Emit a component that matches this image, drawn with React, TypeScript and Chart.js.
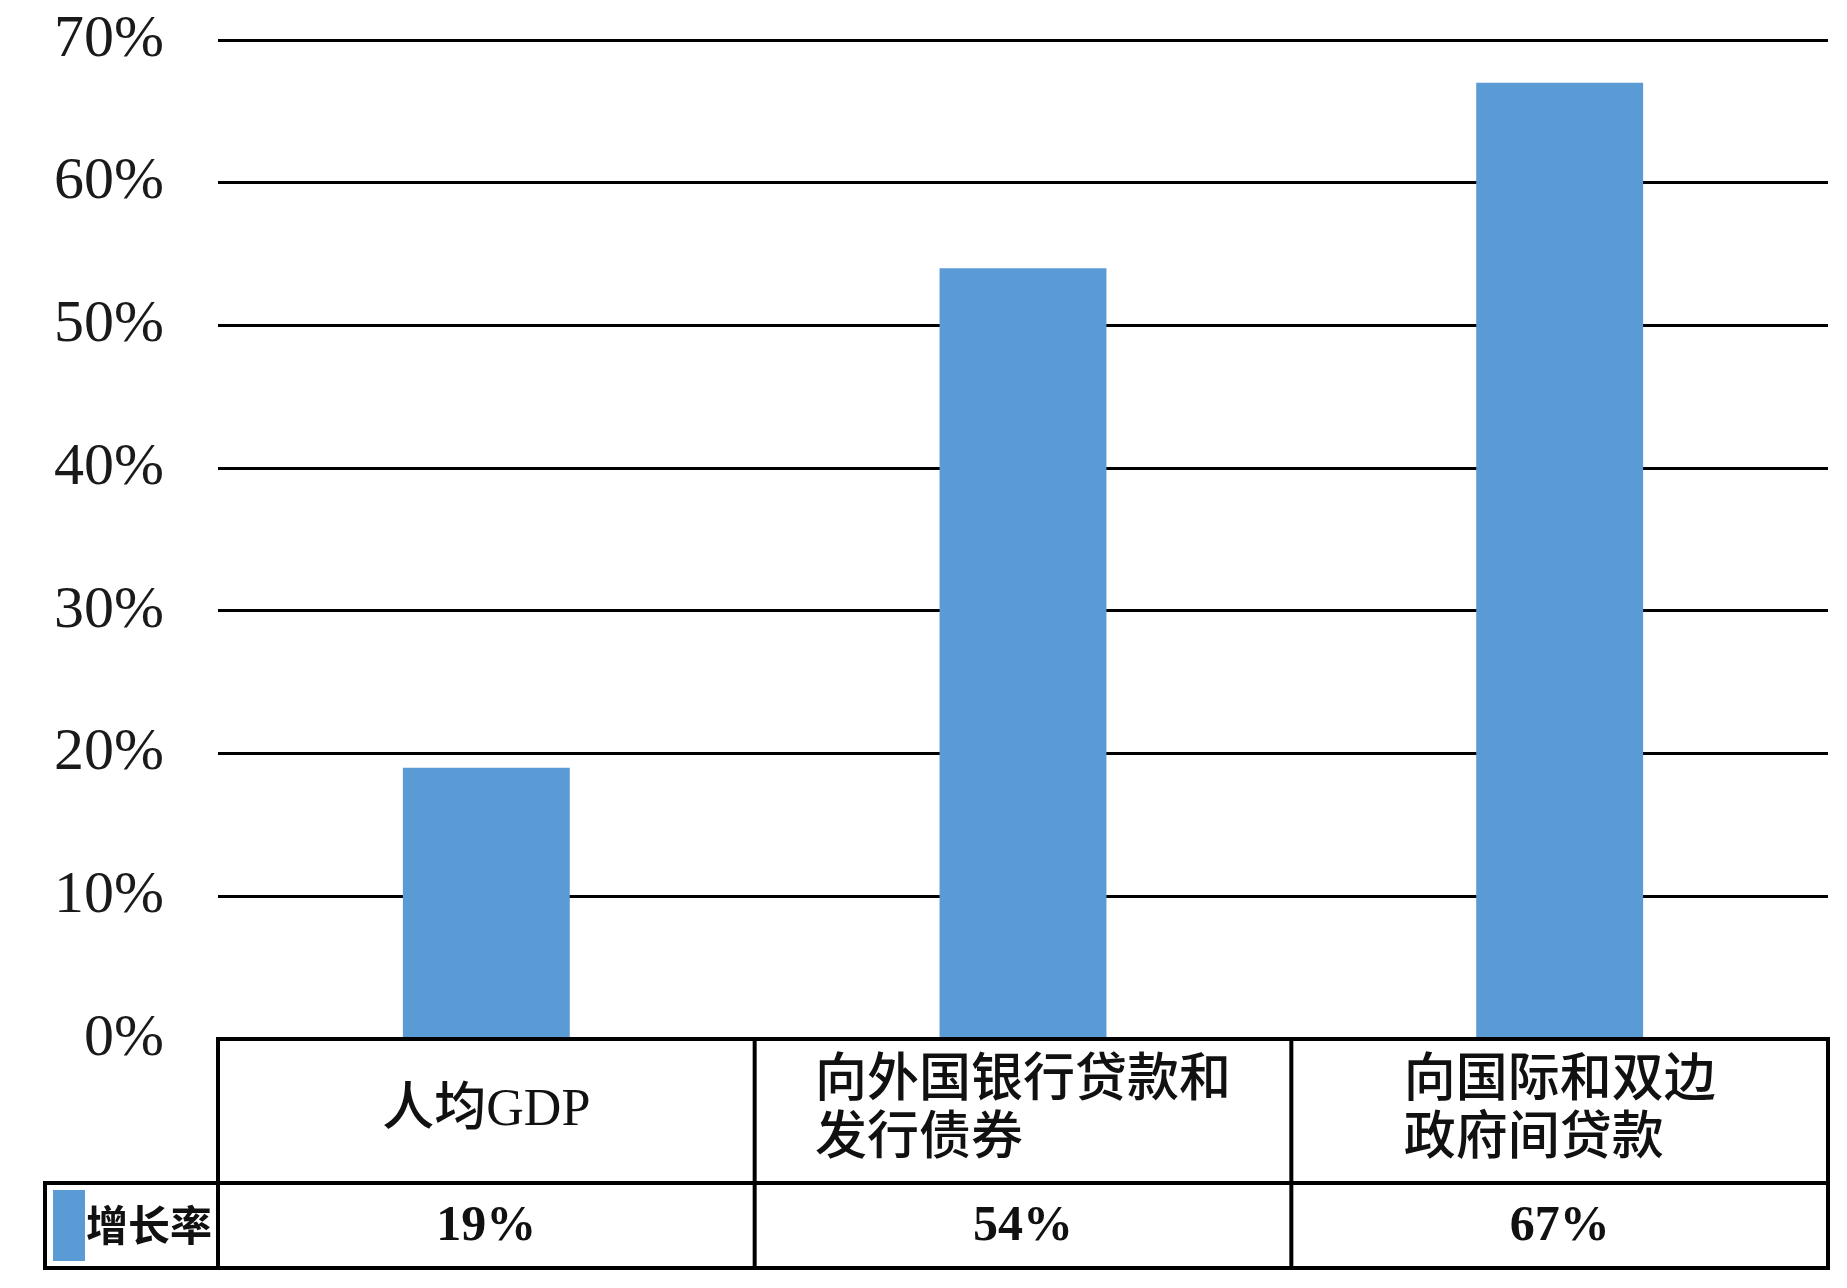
import React, { useEffect, useRef } from "react";
import { Chart, registerables } from "chart.js";

Chart.register(...registerables);

const categories: string[][] = [
  ["人均GDP"],
  ["向外国银行贷款和", "发行债券"],
  ["向国际和双边", "政府间贷款"],
];
const growthRates: number[] = [19, 54, 67];
const seriesLabel = "增长率";
const yMin = 0;
const yMax = 70;
const yStep = 10;

const BAR_COLOR = "#5B9BD5";

const tablePlugin = {
  id: "dataTable",
  afterDraw(chart: any) {
    const ctx = chart.ctx;
    const { left, right, bottom } = chart.chartArea;
    const xs = chart.scales.x;
    const n = chart.data.labels.length;
    const catW = (right - left) / n;
    const rowTop = bottom;
    const rowMid = bottom + 144;
    const rowBot = bottom + 229;
    const legendLeft = 45;

    ctx.save();
    ctx.strokeStyle = "#000";
    ctx.lineWidth = 4;
    ctx.lineCap = "square";
    ctx.beginPath();
    ctx.moveTo(left, rowTop);
    ctx.lineTo(right, rowTop);
    ctx.moveTo(legendLeft, rowMid);
    ctx.lineTo(right, rowMid);
    ctx.moveTo(legendLeft, rowBot);
    ctx.lineTo(right, rowBot);
    ctx.moveTo(legendLeft, rowMid);
    ctx.lineTo(legendLeft, rowBot);
    for (let i = 0; i <= n; i++) {
      const xb = left + i * catW;
      ctx.moveTo(xb, rowTop);
      ctx.lineTo(xb, rowBot);
    }
    ctx.stroke();

    // category labels
    ctx.fillStyle = "#111";
    ctx.textBaseline = "middle";
    ctx.font = "500 52px 'Liberation Serif', 'Noto Sans CJK SC'";
    const catCenterY = (rowTop + rowMid) / 2;
    const lineH = 58;
    chart.data.labels.forEach((lab: string[], i: number) => {
      const cx = xs.getPixelForValue(i);
      const lines = Array.isArray(lab) ? lab : [lab];
      const maxW = Math.max(...lines.map((l) => ctx.measureText(l).width));
      lines.forEach((l, j) => {
        const y = catCenterY + (j - (lines.length - 1) / 2) * lineH;
        if (lines.length === 1) {
          ctx.textAlign = "center";
          ctx.fillText(l, cx, y);
        } else {
          ctx.textAlign = "left";
          ctx.fillText(l, cx - maxW / 2, y);
        }
      });
    });

    // values
    const valY = (rowMid + rowBot) / 2 + 2;
    ctx.font = "bold 50px 'Liberation Serif', 'Noto Sans CJK SC'";
    ctx.textAlign = "center";
    const ds = chart.data.datasets[0];
    ds.data.forEach((v: number, i: number) => {
      const cx = xs.getPixelForValue(i);
      ctx.fillText(v + "%", cx, valY);
    });

    // legend key
    ctx.fillStyle = ds.backgroundColor;
    ctx.fillRect(legendLeft + 8, rowMid + 7, 32, rowBot - rowMid - 14);
    ctx.fillStyle = "#111";
    ctx.textAlign = "left";
    ctx.font = "bold 42px 'Noto Sans CJK SC', 'Liberation Serif'";
    ctx.fillText(ds.label, legendLeft + 41, valY - 2);
    ctx.restore();
  },
};

export default function App() {
  const canvasRef = useRef<HTMLCanvasElement | null>(null);

  useEffect(() => {
    if (!canvasRef.current) return;
    const chart = new Chart(canvasRef.current, {
      type: "bar",
      data: {
        labels: categories as any,
        datasets: [
          {
            label: seriesLabel,
            data: growthRates,
            backgroundColor: BAR_COLOR,
            borderWidth: 0,
            categoryPercentage: 1,
            barPercentage: 0.311,
          },
        ],
      },
      options: {
        responsive: false,
        animation: false,
        layout: { padding: { left: 0, right: 19, top: 40, bottom: 249 } },
        plugins: {
          legend: { display: false },
          tooltip: { enabled: false },
        },
        scales: {
          x: {
            display: false,
          },
          y: {
            min: yMin,
            max: yMax,
            afterFit: (scale: any) => {
              scale.width = 218;
              scale.paddingTop = 0;
              scale.paddingBottom = 0;
            },
            border: { display: false },
            grid: {
              color: "#000",
              lineWidth: 3,
              drawTicks: false,
            },
            ticks: {
              stepSize: yStep,
              padding: 54,
              color: "#1a1a1a",
              font: { family: "'Liberation Serif', serif", size: 60 },
              callback: (v: any) => v + "%",
            },
          },
        },
      },
      plugins: [tablePlugin],
    });
    return () => chart.destroy();
  }, []);

  return (
    <div style={{ position: "absolute", left: 0, top: 0, width: 1847, height: 1288, background: "#fff" }}>
      <canvas ref={canvasRef} width={1847} height={1288} style={{ display: "block" }} />
    </div>
  );
}
